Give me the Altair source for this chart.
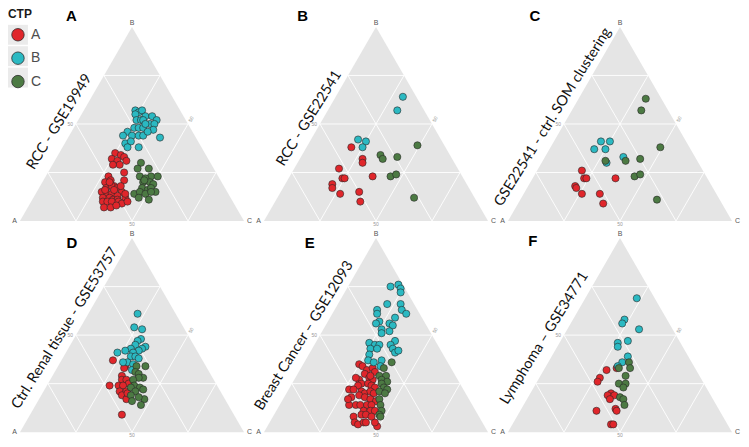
import math
import pandas as pd
import altair as alt

# ---------------- data ----------------
CLASSES = ["A", "B", "C"]
COLORS = ["#e0262b", "#2bb9c2", "#4c7a43"]
GRID_LEVELS = [25, 50, 75]

# each sample as (B %, C %); A % = 100 - B - C
A_ctpA = [(35,25),(34,28),(33,30),(31,32),(32,25),(31,28),(29,30),(29,27),(25,34),(21,36),(23,28),(20,28),
          (21,30),(18,33),(17,30),(18,32),(17,35),(15,38),(15,29),(14,32),(14,34),(13,37),(12,31),(12,34),
          (11,36),(11,38),(12,41),(10,32),(10,34),(10,36),(10,39),(9,41),(7,34),(7,37),(8,39),(10,43),(14,40),
          (16,30),(16,34),(18,36),(20,30)]
A_ctpB = [(57,23),(56,25),(55,24),(57,26),(54,29),(54,32),(52,35),(52,26),(52,28),(52,29),(50,33),(50,35),
          (48,27),(48,29),(48,31),(50,31),(46,25),(47,36),(43,41),(44,24),(44,28),(44,31),(44,33),(40,27),
          (41,29),(38,34),(38,29),(46,34)]
A_ctpC = [(30,39),(27,39),(27,44),(23,47),(23,50),(23,42),(22,45),(20,45),(20,48),(19,50),(17,46),(16,49),
          (17,50),(15,53),(14,44),(15,46),(14,49),(15,51),(12,47),(11,52),(21,45)]

B_ctpA = [(38,20),(32,28),(30,29),(27,20),(22,24),(22,25),(23,37),(19,21),(17,22),(14,27),(15,35),(10,38)]
B_ctpB = [(64,30),(57,31),(42,21),(41,25),(38,25)]
B_ctpC = [(39,49),(34,35),(32,37),(33,43),(23,45),(24,47),(12,61)]

C_ctpA = [(26,20),(22,23),(22,24),(22,37),(18,21),(17,22),(14,26),(14,34),(9,38)]
C_ctpB = [(41,21),(41,25),(37,20),(37,25),(33,35),(30,29)]
C_ctpC = [(63,30),(57,31),(38,49),(32,43),(31,37),(31,28),(23,45),(24,47),(11,61)]

D_ctpA = [(37,23),(34,30),(33,30),(29,31),(27,32),(27,34),(25,36),(24,32),(24,34),(24,28),(21,34),(21,37),
          (19,36),(18,39),(17,39),(9,41),(20,38)]
D_ctpB = [(61,22),(54,24),(53,28),(48,30),(47,29),(45,29),(44,34),(43,33),(42,32),(43,28),(42,26),(41,23),
          (41,30),(39,30),(39,32),(38,34),(36,30),(35,33),(36,28),(32,34)]
D_ctpC = [(34,39),(34,35),(31,36),(30,38),(28,41),(28,39),(27,37),(24,39),(23,42),(23,38),(22,44),(21,41),
          (19,40),(17,47),(16,42),(14,47),(18,44)]

E_ctpA = [(35,25),(34,27),(32,30),(33,32),(31,34),(30,30),(28,33),(27,29),(27,35),(25,31),(25,34),(24,36),
          (23,38),(24,30),(22,27),(22,29),(21,33),(20,35),(21,37),(20,39),(19,33),(18,36),(18,30),(17,39),
          (16,42),(14,31),(14,34),(14,36),(14,39),(14,41),(11,39),(11,42),(11,44),(8,36),(9,39),(9,41),
          (5,38),(4,40),(5,42),(5,43),(3,49),(5,47),(8,44),(17,29),(28,27),(29,33)]
E_ctpB = [(75,19),(76,22),(74,24),(72,25),(66,22),(66,28),(63,30),(61,33),(63,19),(61,20),(59,29),(57,23),
          (56,22),(56,28),(55,30),(53,26),(52,30),(51,27),(47,35),(46,24),(45,27),(45,29),(45,34),(43,26),
          (43,29),(43,36),(41,38),(42,39),(40,27),(37,28),(36,31),(37,34),(34,35)]
E_ctpC = [(36,39),(33,37),(29,37),(29,40),(27,39),(26,42),(25,40),(23,42),(22,44),(21,41),(20,44),(17,43),
          (14,45),(11,47),(9,47),(8,48)]

F_ctpA = [(33,32),(32,28),(28,27),(26,27),(20,36),(19,35),(19,38),(17,37),(12,42),(11,43),(11,34),(4,44),(4,45)]
F_ctpB = [(69,23),(58,23),(56,23),(53,32),(47,30),(46,26),(44,27),(39,34),(36,33),(34,32)]
F_ctpC = [(36,36),(33,38),(33,33),(29,38),(25,37),(25,40),(23,40),(18,41),(17,43),(14,45)]

PANEL_LETTERS = ["A", "B", "C", "D", "E", "F"]
PANEL_TITLES = ["RCC - GSE19949", "RCC - GSE22541", "GSE22541 - ctrl. SOM clustering",
                "Ctrl. Renal tissue - GSE53757", "Breast Cancer \u2013 GSE12093", "Lymphoma \u2013 GSE34771"]
PANEL_DATA = [[A_ctpA, A_ctpB, A_ctpC], [B_ctpA, B_ctpB, B_ctpC], [C_ctpA, C_ctpB, C_ctpC],
              [D_ctpA, D_ctpB, D_ctpC], [E_ctpA, E_ctpB, E_ctpC], [F_ctpA, F_ctpB, F_ctpC]]
KEY_BG = ["key1", "key2", "key3"]

# ---------------- layout ----------------
S3 = math.sqrt(3) / 2
K = 225.0            # pixels per unit triangle side
PW = 245             # panel width
PH = 213             # panel height
ROW_BASE = [213, 212]
TRI_LEFT = 12
XDOM = [-TRI_LEFT / K, (PW - TRI_LEFT) / K]

TITLE_OFF = [(-7, -15), (-1, -12), (0, -13), (0, -13), (-9, -13), (-13, -15)]
LETTER_POS = [(0.229, None), (0.173, None), (0.12, None), (0.232, 0.844), (0.204, 0.844), (0.111, 0.853)]

TXT_FONT = "Lato"
SANS = "Liberation Sans"


def tern(b, c):
    return (c + b / 2) / 100.0, b * S3 / 100.0


tri_df = pd.DataFrame({"x": [0.0, 0.5, 1.0], "y": [0.0, S3, 0.0]})

grid_rows = []
for lv in GRID_LEVELS:
    t = lv / 100.0
    grid_rows.append(dict(x=t / 2, y=t * S3, x2=1 - t / 2, y2=t * S3))
    grid_rows.append(dict(x=t, y=0.0, x2=t + (1 - t) / 2, y2=(1 - t) * S3))
    grid_rows.append(dict(x=1 - t, y=0.0, x2=(1 - t) / 2, y2=(1 - t) * S3))
grid_df = pd.DataFrame(grid_rows)

color_legend = alt.Legend(
    orient="none", legendX=3, legendY=19, title=None,
    labelFont=SANS, labelFontSize=14, labelColor="#4d4d4d", labelOffset=6,
    symbolType="circle", symbolSize=156, symbolStrokeColor="#2b2b2b", symbolStrokeWidth=0.8,
    symbolOpacity=1, rowPadding=7.5, padding=0, zindex=1)

bg_legend = alt.Legend(
    orient="none", legendX=0, legendY=0, title="CTP",
    titleFont=SANS, titleFontSize=12, titleFontWeight="bold", titleColor="#1a1a1a", titlePadding=4,
    labelExpr="''",
    symbolType="square", symbolSize=400, symbolFillColor="#ebebeb", symbolStrokeColor="#ebebeb",
    symbolStrokeWidth=0, symbolOpacity=1, rowPadding=1.5, padding=0, zindex=0)


def panel(i):
    r = i // 3
    ydom = [-(PH - ROW_BASE[r]) / K, ROW_BASE[r] / K]
    xs = alt.Scale(domain=XDOM, nice=False, zero=False)
    ys = alt.Scale(domain=ydom, nice=False, zero=False)

    def ex(f):
        return alt.X(f, type="quantitative", scale=xs, axis=None)

    def ey(f):
        return alt.Y(f, type="quantitative", scale=ys, axis=None)

    layers = []
    if i == 0:
        bg = pd.DataFrame({"CTP_bg": KEY_BG, "x": [0.5] * 3, "y": [0.3] * 3})
        layers.append(alt.Chart(bg).mark_point(filled=True, color="#ebebeb", opacity=1, size=30).encode(
            x=ex("x"), y=ey("y"),
            shape=alt.Shape("CTP_bg:N", scale=alt.Scale(domain=KEY_BG, range=["square"] * 3), legend=bg_legend)))

    layers.append(alt.Chart(tri_df).mark_area(color="#e5e5e5", interpolate="linear").encode(
        x=ex("x"), y=ey("y"), y2=alt.datum(0)))
    layers.append(alt.Chart(grid_df).mark_rule(color="white", strokeWidth=0.9).encode(
        x=ex("x"), y=ey("y"), x2="x2", y2="y2"))

    # vertex and mid-edge labels
    vA = pd.DataFrame({"x": [0.0], "y": [0.0], "t": ["A"]})
    vB = pd.DataFrame({"x": [0.5], "y": [S3], "t": ["B"]})
    vC = pd.DataFrame({"x": [1.0], "y": [0.0], "t": ["C"]})
    layers.append(alt.Chart(vA).mark_text(align="right", baseline="middle", dx=-3, fontSize=7, color="#555555", font=SANS)
                  .encode(x=ex("x"), y=ey("y"), text="t:N"))
    layers.append(alt.Chart(vB).mark_text(align="center", baseline="bottom", dy=-1, fontSize=7, color="#555555", font=SANS)
                  .encode(x=ex("x"), y=ey("y"), text="t:N"))
    layers.append(alt.Chart(vC).mark_text(align="left", baseline="middle", dx=3, fontSize=7, color="#555555", font=SANS)
                  .encode(x=ex("x"), y=ey("y"), text="t:N"))
    mid = pd.DataFrame({"x": [0.25], "y": [S3 / 2], "t": ["50"]})
    layers.append(alt.Chart(mid).mark_text(align="right", baseline="middle", dx=-3, fontSize=5, color="#999999", font=SANS)
                  .encode(x=ex("x"), y=ey("y"), text="t:N"))
    midr = pd.DataFrame({"x": [0.75], "y": [S3 / 2], "t": ["50"]})
    layers.append(alt.Chart(midr).mark_text(align="left", baseline="middle", dx=3, angle=300, fontSize=5, color="#999999", font=SANS)
                  .encode(x=ex("x"), y=ey("y"), text="t:N"))
    midb = pd.DataFrame({"x": [0.5], "y": [0.0], "t": ["50"]})
    layers.append(alt.Chart(midb).mark_text(align="center", baseline="top", dy=1, fontSize=5, color="#999999", font=SANS)
                  .encode(x=ex("x"), y=ey("y"), text="t:N"))

    # points
    rows = []
    for cls, pts in zip(CLASSES, PANEL_DATA[i]):
        for b, c in pts:
            x, y = tern(b, c)
            rows.append(dict(x=x, y=y, CTP=cls))
    pdf = pd.DataFrame(rows)
    layers.append(alt.Chart(pdf).mark_point(shape="circle", filled=True, size=52, stroke="#262626",
                                            strokeWidth=0.6, opacity=1).encode(
        x=ex("x"), y=ey("y"),
        color=alt.Color("CTP:N", scale=alt.Scale(domain=CLASSES, range=COLORS), legend=color_legend)))

    # rotated dataset title along the left edge
    tdf = pd.DataFrame({"x": [0.25], "y": [S3 / 2], "t": [PANEL_TITLES[i]]})
    dx, dy = TITLE_OFF[i]
    layers.append(alt.Chart(tdf).mark_text(angle=302, align="center", baseline="middle", dx=dx, dy=dy,
                                           fontSize=14.5, font=TXT_FONT, color="#111111").encode(
        x=ex("x"), y=ey("y"), text="t:N"))

    # panel letter
    lx, ly = LETTER_POS[i]
    if ly is None:
        ldf = pd.DataFrame({"x": [lx], "y": [ydom[1]], "t": [PANEL_LETTERS[i]]})
        base = "top"
    else:
        ldf = pd.DataFrame({"x": [lx], "y": [ly], "t": [PANEL_LETTERS[i]]})
        base = "middle"
    layers.append(alt.Chart(ldf).mark_text(align="center", baseline=base, fontSize=15, fontWeight="bold",
                                           font=SANS, color="#000000").encode(
        x=ex("x"), y=ey("y"), text="t:N"))

    return alt.layer(*layers).properties(width=PW, height=PH)


chart = (alt.concat(*[panel(i) for i in range(6)], columns=3, spacing=0, bounds="flush")
         .resolve_scale(color="shared", shape="shared")
         .properties(padding=0, background="white")
         .configure_view(stroke=None)
         .configure_legend(padding=0))

chart.save("out.html", embed_options={"renderer": "svg", "actions": False})
